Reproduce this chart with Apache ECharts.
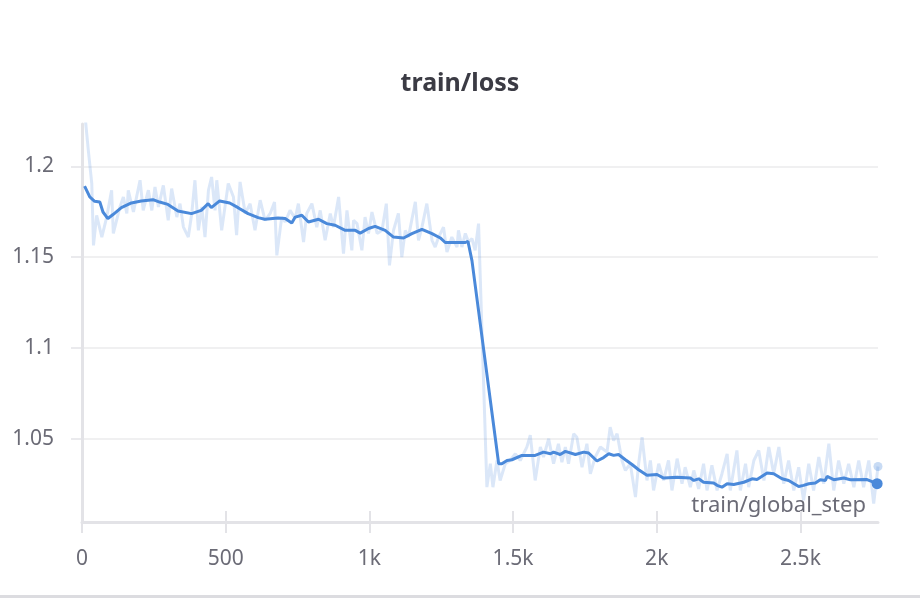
<!DOCTYPE html>
<html>
<head>
<meta charset="utf-8">
<script src="https://cdn.jsdelivr.net/npm/echarts@6/dist/echarts.min.js"></script>
<style>
html,body{margin:0;padding:0;background:#fff}
#chart{width:920px;height:598px}
</style>
</head>
<body>
<div id="chart"></div>
<script>
// raw loss
var rawSteps = [8,22,34,40,51,69,86,103,109,132,144,156,161,179,202,213,231,243,254,266,283,300,312,330,341,353,370,382,393,405,417,428,440,451,463,469,486,509,527,538,550,568,585,602,620,637,655,670,678,695,707,724,742,753,771,782,800,817,829,846,864,875,893,910,922,939,945,957,974,985,997,1009,1027,1044,1059,1070,1084,1101,1113,1125,1136,1160,1171,1183,1200,1218,1229,1241,1258,1270,1287,1305,1310,1322,1334,1345,1357,1368,1380,1409,1421,1430,1444,1455,1473,1490,1508,1525,1548,1560,1577,1595,1606,1624,1641,1658,1670,1682,1693,1711,1722,1740,1757,1769,1786,1804,1827,1838,1850,1862,1879,1891,1908,1926,1937,1949,1966,1978,1989,2007,2024,2041,2053,2071,2088,2099,2117,2129,2146,2163,2175,2192,2210,2227,2245,2256,2279,2291,2309,2320,2338,2355,2373,2390,2407,2425,2442,2459,2477,2494,2511,2529,2546,2564,2581,2599,2616,2633,2651,2668,2686,2703,2720,2738,2755,2770];
var rawLoss = [1.232,1.2088,1.1905,1.1564,1.173,1.161,1.172,1.1868,1.163,1.1776,1.1831,1.174,1.1868,1.1748,1.1923,1.1757,1.1868,1.1757,1.1886,1.1776,1.1895,1.1702,1.1877,1.172,1.1794,1.1665,1.161,1.174,1.1923,1.1647,1.1776,1.161,1.1868,1.1941,1.1757,1.1923,1.1647,1.1905,1.1831,1.162,1.1914,1.174,1.1794,1.1647,1.1813,1.1702,1.174,1.1803,1.1509,1.172,1.1693,1.1757,1.1712,1.1794,1.1583,1.174,1.1794,1.1665,1.1757,1.1592,1.174,1.1665,1.1831,1.1519,1.1757,1.1537,1.1702,1.1684,1.1537,1.172,1.163,1.1748,1.163,1.1647,1.1794,1.1454,1.1647,1.174,1.15,1.1647,1.161,1.1804,1.1592,1.1665,1.1794,1.1592,1.1555,1.161,1.1665,1.1528,1.161,1.1555,1.1647,1.1555,1.163,1.1583,1.1601,1.1537,1.1684,1.0232,1.0361,1.0232,1.0379,1.0269,1.0361,1.0379,1.0416,1.0379,1.0453,1.0518,1.0269,1.0453,1.0398,1.0499,1.0361,1.0471,1.037,1.0453,1.0361,1.0526,1.0507,1.0342,1.0471,1.0306,1.0398,1.0453,1.0425,1.0563,1.0489,1.0526,1.0379,1.0324,1.0361,1.0177,1.0361,1.0507,1.0269,1.0379,1.0214,1.0361,1.0269,1.0379,1.0214,1.0389,1.0251,1.0342,1.0232,1.0324,1.0222,1.0361,1.0214,1.0352,1.0214,1.0306,1.0416,1.0214,1.0434,1.0214,1.0361,1.0232,1.0379,1.0434,1.0269,1.0453,1.0306,1.0453,1.0251,1.0379,1.0214,1.0342,1.0159,1.0361,1.0214,1.0398,1.0251,1.0471,1.0214,1.0379,1.0251,1.0361,1.0232,1.0379,1.0232,1.0379,1.0141,1.0346];

// smoothed loss, the dark line
var smoothSteps = [9,27,44,62,73,90,108,137,172,206,247,270,299,334,381,415,439,450,479,514,543,578,613,636,682,707,730,742,765,788,823,852,881,916,951,968,997,1020,1055,1084,1119,1148,1183,1218,1247,1264,1299,1334,1343,1357,1450,1461,1479,1496,1531,1577,1606,1630,1641,1664,1682,1717,1746,1763,1792,1815,1833,1850,1867,1891,1914,1937,1966,2001,2024,2071,2117,2129,2146,2163,2198,2210,2227,2245,2268,2303,2332,2349,2384,2407,2436,2459,2494,2511,2529,2552,2569,2587,2593,2616,2651,2674,2732,2767];
var smoothLoss = [1.1891,1.1831,1.1807,1.1803,1.1748,1.1712,1.1734,1.1772,1.1798,1.1809,1.1816,1.1803,1.179,1.1754,1.1739,1.1757,1.1794,1.1772,1.1809,1.1798,1.1772,1.1739,1.1717,1.1708,1.1715,1.1712,1.1687,1.172,1.173,1.1693,1.1708,1.1684,1.1675,1.1647,1.1647,1.1632,1.1657,1.1669,1.1647,1.161,1.1605,1.1629,1.1653,1.1629,1.1605,1.158,1.158,1.158,1.1587,1.148,1.0361,1.0361,1.0379,1.0383,1.0407,1.0407,1.0425,1.0416,1.0425,1.0412,1.0429,1.0412,1.0425,1.042,1.0376,1.0395,1.0416,1.0407,1.0412,1.0383,1.0357,1.0328,1.0297,1.0302,1.0282,1.0287,1.0282,1.0269,1.0278,1.0259,1.0255,1.0242,1.0232,1.0251,1.0247,1.0259,1.0278,1.0274,1.031,1.0306,1.0278,1.0269,1.0236,1.0242,1.0251,1.0255,1.0273,1.0269,1.0291,1.0273,1.0282,1.0273,1.0274,1.0251];

var xTicks = [0, 500, 1000, 1500, 2000, 2500];
var yTicks = [1.05, 1.1, 1.15, 1.2];

var FONT = 'Noto Sans';
var GREY = '#6b6b76';

function pairs(xs, ys, endSize, endColor) {
    var out = [];
    for (var i = 0; i < xs.length; i++) {
        if (i === xs.length - 1) {
            out.push({ value: [xs[i], ys[i]], symbol: 'circle', symbolSize: endSize, itemStyle: { color: endColor } });
        } else {
            out.push([xs[i], ys[i]]);
        }
    }
    return out;
}

var chart = echarts.init(document.getElementById('chart'));

chart.setOption({
    animation: false,
    title: {
        text: 'train/loss',
        left: 'center',
        top: 66,
        textStyle: { fontFamily: FONT, fontSize: 25, fontWeight: 'bold', color: '#3b3b44' }
    },
    grid: { left: 82, right: 42, top: 124, bottom: 76 },
    xAxis: [{
        type: 'value',
        min: 0,
        max: 2770,
        name: 'train/global_step',
        nameLocation: 'end',
        nameGap: -12,
        nameTextStyle: { fontFamily: FONT, fontSize: 22, color: GREY, align: 'right', verticalAlign: 'bottom', padding: [0, 0, 5, 0] },
        axisLine: { lineStyle: { color: '#e3e3e7', width: 3 } },
        axisTick: { show: true, length: 11, customValues: xTicks, lineStyle: { color: '#e3e3e7', width: 2 } },
        axisLabel: {
            customValues: xTicks,
            margin: 27,
            fontFamily: FONT, fontSize: 21, color: GREY,
            formatter: function (v) { return v >= 1000 ? (v / 1000) + 'k' : String(v); }
        },
        splitLine: { show: false }
    }, {
        // inner half of the x ticks
        type: 'value',
        position: 'bottom',
        min: 0,
        max: 2770,
        axisLine: { show: false },
        axisTick: { show: true, inside: true, length: 11, customValues: [500, 1000, 1500, 2000, 2500], lineStyle: { color: '#e3e3e7', width: 2 } },
        axisLabel: { show: false },
        splitLine: { show: false }
    }],
    yAxis: {
        type: 'value',
        min: 1.004,
        max: 1.2233,
        axisLine: { show: true, lineStyle: { color: '#e3e3e7', width: 3 } },
        axisTick: { show: true, length: 11, customValues: yTicks, lineStyle: { color: '#e3e3e7', width: 1.5 } },
        axisLabel: { customValues: yTicks, margin: 28, fontFamily: FONT, fontSize: 21, color: GREY },
        splitLine: { show: true, lineStyle: { color: '#ebebed', width: 1.5 } }
    },
    series: [{
        type: 'line',
        name: 'raw',
        data: pairs(rawSteps, rawLoss, 9, 'rgba(74,137,218,0.3)'),
        symbol: 'none',
        showSymbol: true,
        showAllSymbol: true,
        lineStyle: { color: 'rgba(74,137,218,0.2)', width: 3 },
        z: 2
    }, {
        type: 'line',
        name: 'smoothed',
        data: pairs(smoothSteps, smoothLoss, 11, '#4a89da'),
        symbol: 'none',
        showSymbol: true,
        showAllSymbol: true,
        lineStyle: { color: '#4a89da', width: 3 },
        z: 3
    }],
    graphic: [{
        type: 'rect',
        left: 0,
        bottom: 0,
        shape: { width: 920, height: 3 },
        style: { fill: '#dcdce0' }
    }]
});
</script>
</body>
</html>
